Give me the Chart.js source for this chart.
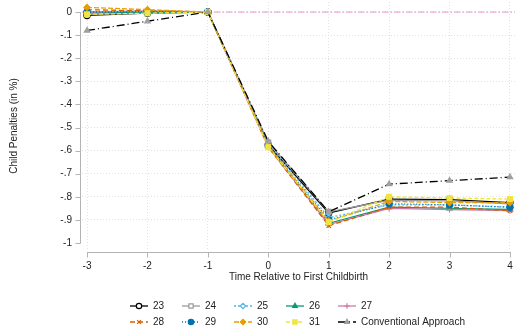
<!DOCTYPE html>
<html>
<head>
<meta charset="utf-8">
<script src="https://cdn.jsdelivr.net/npm/chart.js@4/dist/chart.umd.min.js"></script>
<style>
  html, body { margin: 0; padding: 0; background: #fff; }
  #wrap { width: 515px; height: 328px; position: relative; }
</style>
</head>
<body>
<div id="wrap"><canvas id="chart"></canvas></div>
<script>
// event time relative to first birth
const years = [-3, -2, -1, 0, 1, 2, 3, 4];
const yTicks = [0, -0.1, -0.2, -0.3, -0.4, -0.5, -0.6, -0.7, -0.8, -0.9, -1];

// child penalty estimates by age at first birth, plus the conventional estimate
const age23 = [-0.015, -0.005, 0, -0.575, -0.870, -0.810, -0.812, -0.825];
const age24 = [-0.010, -0.005, 0, -0.565, -0.865, -0.815, -0.818, -0.830];
const age25 = [0.000, 0.000, 0, -0.570, -0.890, -0.835, -0.835, -0.845];
const age26 = [-0.005, 0.000, 0, -0.580, -0.915, -0.845, -0.850, -0.855];
const age27 = [0.000, 0.005, 0, -0.585, -0.920, -0.850, -0.855, -0.860];
const age28 = [0.010, 0.005, 0, -0.585, -0.925, -0.845, -0.845, -0.860];
const age29 = [0.000, 0.000, 0, -0.580, -0.900, -0.830, -0.835, -0.845];
const age30 = [0.020, 0.010, 0, -0.580, -0.905, -0.820, -0.825, -0.825];
const age31 = [-0.010, -0.005, 0, -0.585, -0.910, -0.800, -0.805, -0.810];
const conventional = [-0.080, -0.040, 0, -0.560, -0.865, -0.745, -0.730, -0.715];

const FONT = '"Liberation Sans", Arial, sans-serif';
const TXT = '#222';

const series = [
    { label: '23', data: age23, color: '#000000', dash: [], point: 'circle', fill: '#ffffff' },
    { label: '24', data: age24, color: '#9a9a9a', dash: [], point: 'rect', fill: '#ffffff' },
    { label: '25', data: age25, color: '#56b4e9', dash: [2, 2], point: 'rectRot', fill: '#ffffff' },
    { label: '26', data: age26, color: '#009e73', dash: [], point: 'triangle', fill: '#009e73' },
    { label: '27', data: age27, color: '#cc79a7', dash: [], point: 'cross', fill: '#cc79a7' },
    { label: '28', data: age28, color: '#d55e00', dash: [5, 3], point: 'crossRot', fill: '#d55e00' },
    { label: '29', data: age29, color: '#0072b2', dash: [1, 2], point: 'circle', fill: '#0072b2' },
    { label: '30', data: age30, color: '#e69f00', dash: [5, 2], point: 'rectRot', fill: '#e69f00' },
    { label: '31', data: age31, color: '#f0e442', dash: [4, 2], point: 'rect', fill: '#f0e442' },
    { label: 'Conventional Approach', data: conventional, color: '#000000', dash: [8, 3, 1, 3], point: 'triangle', fill: '#a0a0a0', pointColor: '#a0a0a0' }
];

const datasets = series.map((s, i) => ({
    label: s.label,
    data: years.map((x, j) => ({ x: x, y: s.data[j] })),
    borderColor: s.color,
    borderWidth: 1.3,
    borderDash: s.dash,
    pointStyle: s.point,
    pointRadius: s.point === 'rect' ? 3.4 : 3.1,
    pointBorderWidth: 1.2,
    pointBorderColor: s.pointColor || s.color,
    pointBackgroundColor: s.fill,
    tension: 0,
    order: series.length - i
}));

// horizontal reference at zero
datasets.push({
    label: 'zero',
    data: [{ x: -3.08, y: 0 }, { x: 4.08, y: 0 }],
    borderColor: '#e58fc0',
    borderWidth: 1,
    borderDash: [6, 2, 2, 2],
    pointRadius: 0,
    order: 20
});

// no extra room for edge labels, the plot keeps its fixed frame
function noEdgePadding(scale) {
    scale.paddingLeft = 0;
    scale.paddingRight = 0;
    scale.paddingTop = 0;
    scale.paddingBottom = 0;
}

// offset axis lines with outward ticks
const axisLines = {
    id: 'axisLines',
    afterDraw(chart) {
        const { ctx, scales: { x, y } } = chart;
        ctx.save();
        ctx.strokeStyle = '#b4b4b4';
        ctx.lineWidth = 1;
        ctx.beginPath();
        const ax = 80.5;
        ctx.moveTo(ax, Math.round(y.getPixelForValue(0)));
        ctx.lineTo(ax, Math.round(y.getPixelForValue(-1)) + 0.5);
        yTicks.forEach(v => {
            const py = Math.round(y.getPixelForValue(v)) + 0.5;
            ctx.moveTo(ax - 5, py);
            ctx.lineTo(ax, py);
        });
        const ay = 252.5;
        ctx.moveTo(Math.round(x.getPixelForValue(-3)), ay);
        ctx.lineTo(Math.round(x.getPixelForValue(4)) + 1, ay);
        years.forEach(v => {
            const px = Math.round(x.getPixelForValue(v)) + 0.5;
            ctx.moveTo(px, ay);
            ctx.lineTo(px, ay + 5);
        });
        ctx.stroke();
        ctx.restore();
    }
};

// legend with line sample and marker, two rows of five
const keyLegend = {
    id: 'keyLegend',
    afterDraw(chart) {
        const ctx = chart.ctx;
        ctx.save();
        ctx.font = '10px ' + FONT;
        ctx.textBaseline = 'middle';
        series.forEach((s, i) => {
            const col = i % 5;
            const row = Math.floor(i / 5);
            const x0 = 130 + col * 52;
            const y0 = 306 + row * 16;
            ctx.strokeStyle = s.color;
            ctx.lineWidth = 1.3;
            ctx.setLineDash(s.dash);
            ctx.beginPath();
            ctx.moveTo(x0, y0);
            ctx.lineTo(x0 + 18, y0);
            ctx.stroke();
            ctx.setLineDash([]);
            ctx.strokeStyle = s.pointColor || s.color;
            ctx.fillStyle = s.fill;
            ctx.lineWidth = 1.2;
            Chart.helpers.drawPoint(ctx, {
                pointStyle: s.point,
                radius: s.point === 'rect' ? 3 : 2.7,
                rotation: 0,
                borderWidth: 1.2
            }, x0 + 9, y0);
            ctx.fillStyle = TXT;
            ctx.fillText(s.label, x0 + 23, y0 + 0.5);
        });
        ctx.restore();
    }
};

new Chart(document.getElementById('chart'), {
    type: 'line',
    data: { datasets: datasets },
    options: {
        responsive: true,
        maintainAspectRatio: false,
        animation: false,
        layout: { autoPadding: false, padding: { top: 2, right: 0, bottom: 33, left: 0 } },
        plugins: {
            legend: { display: false },
            tooltip: { enabled: false }
        },
        scales: {
            x: {
                type: 'linear',
                min: -3.083,
                max: 4.083,
                afterBuildTicks: scale => { scale.ticks = years.map(v => ({ value: v })); },
                afterFit: scale => { scale.height = 45; noEdgePadding(scale); },
                grid: { color: '#e2e2e2', lineWidth: 1, drawTicks: false },
                border: { display: false, dash: [1, 2] },
                ticks: {
                    padding: 10,
                    color: TXT,
                    font: { family: FONT, size: 10 },
                    callback: v => String(v)
                },
                title: {
                    display: true,
                    text: 'Time Relative to First Childbirth',
                    color: TXT,
                    font: { family: FONT, size: 10 },
                    padding: { top: 0, bottom: 12 }
                }
            },
            y: {
                min: -1.0303,
                max: 0.0433,
                afterBuildTicks: scale => { scale.ticks = yTicks.map(v => ({ value: v })); },
                afterFit: scale => { scale.width = 82; noEdgePadding(scale); },
                grid: {
                    color: ctx => (ctx.tick && ctx.tick.value === -1) ? 'rgba(0,0,0,0)' : '#e2e2e2',
                    lineWidth: 1,
                    drawTicks: false
                },
                border: { display: false, dash: [1, 2] },
                ticks: {
                    padding: 10,
                    color: TXT,
                    font: { family: FONT, size: 10 },
                    callback: v => {
                        const r = Math.round(v * 10) / 10;
                        if (r === 0) return '0';
                        if (r === -1) return '-1';
                        return '-.' + Math.round(-r * 10);
                    }
                },
                title: {
                    display: true,
                    text: 'Child Penalties (in %)',
                    color: TXT,
                    font: { family: FONT, size: 10 },
                    padding: { top: 8, bottom: 0 }
                }
            }
        }
    },
    plugins: [axisLines, keyLegend]
});
</script>
</body>
</html>
